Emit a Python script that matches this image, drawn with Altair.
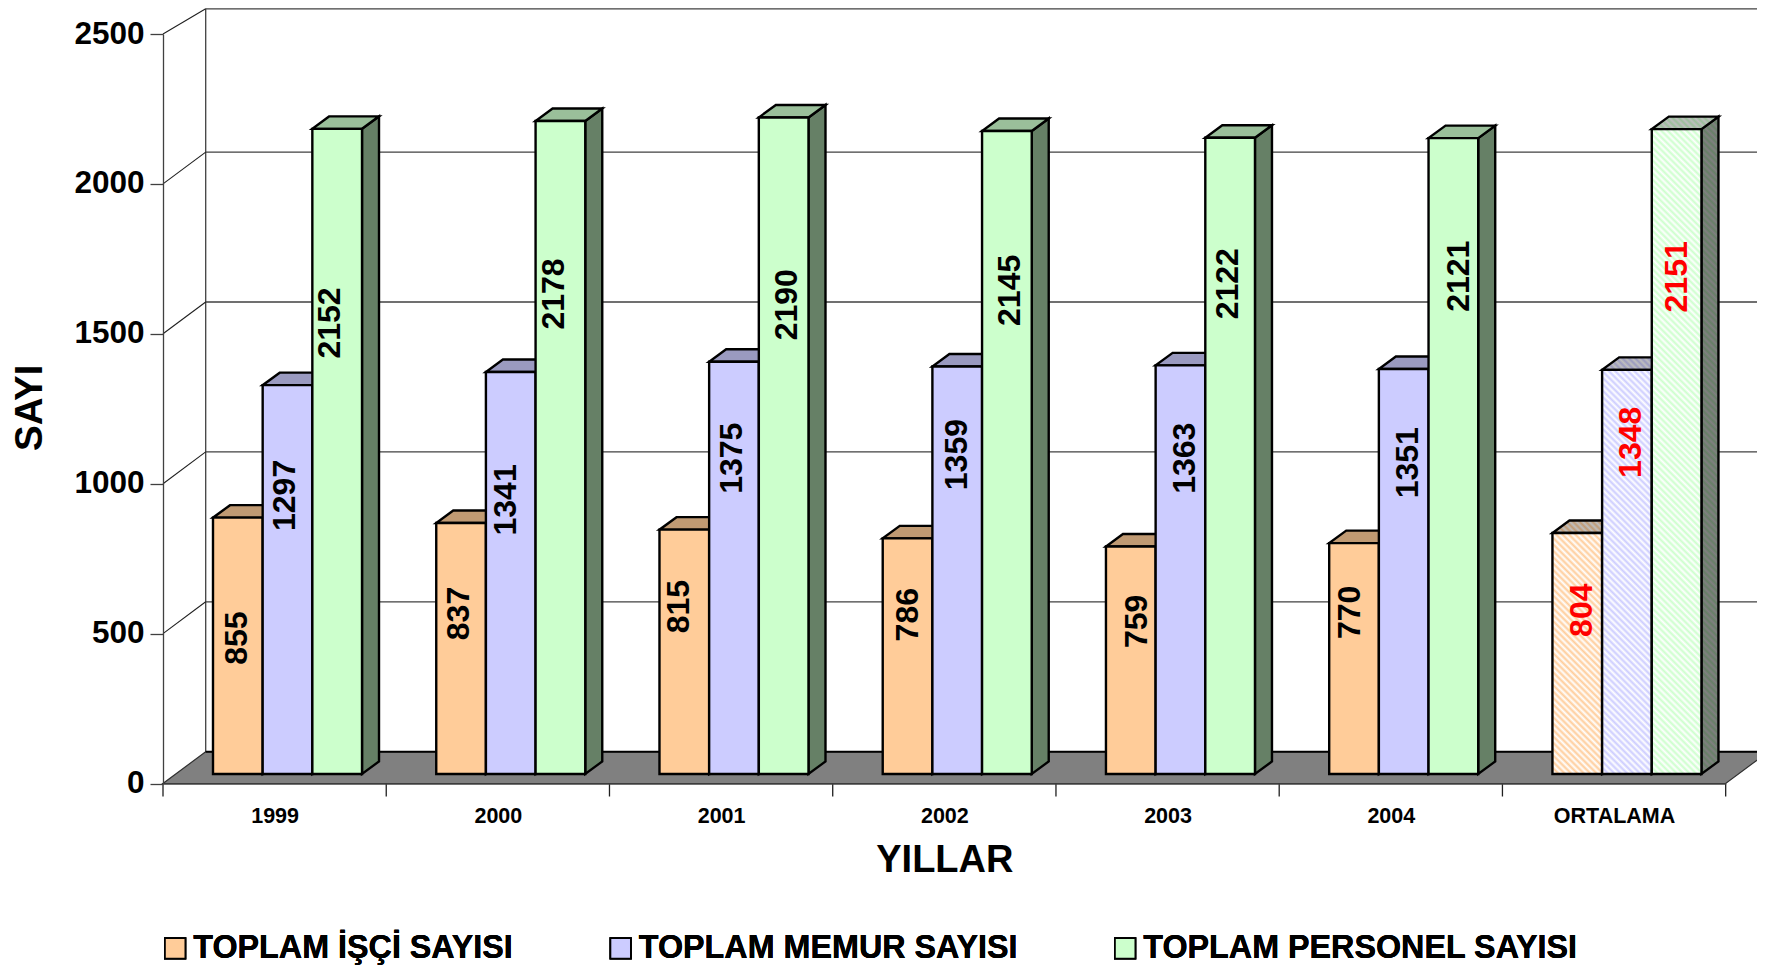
import json
import altair as alt
import pandas as pd

# ---- data
categories = ["1999", "2000", "2001", "2002", "2003", "2004", "ORTALAMA"]
series = ["TOPLAM İŞÇİ SAYISI", "TOPLAM MEMUR SAYISI", "TOPLAM PERSONEL SAYISI"]
isci = [855, 837, 815, 786, 759, 770, 804]
memur = [1297, 1341, 1375, 1359, 1363, 1351, 1348]
personel = [2152, 2178, 2190, 2145, 2122, 2121, 2151]
values = [isci, memur, personel]

# where each hand-placed data label sits, in y-axis units
label_y_isci = [485, 567, 590, 563, 541, 571, 578]
label_y_memur = [961, 946, 1085, 1097, 1085, 1070, 1138]
label_y_personel = [1536, 1633, 1597, 1645, 1667, 1692, 1690]
label_y = [label_y_isci, label_y_memur, label_y_personel]
# sideways nudge of each label from its bar centre, in category units
label_dx_isci = [-0.003, -0.010, -0.025, 0, 0.030, -0.020, 0.020]
label_dx_memur = [-0.010, -0.020, -0.010, 0, 0.020, 0.020, 0.018]
label_dx_personel = [-0.030, -0.030, 0.015, 0.015, -0.010, 0.025, 0]
label_dx = [label_dx_isci, label_dx_memur, label_dx_personel]

y_ticks = [0, 500, 1000, 1500, 2000, 2500]

front = ["#FFCC99", "#CCCCFF", "#CCFFCC"]
top_c = ["#C09A73", "#9A9AC0", "#9ABF9A"]
side_c = ["#806650", "#666680", "#668066"]

# ---- drawing geometry
PX_X = 223.24            # pixels per category
PX_Y = 0.2998            # pixels per y unit
PLOT_W = PX_X * 7
PLOT_H = 2500 * PX_Y
LEFT, TOP = 155, 26
CANVAS_W, CANVAS_H = 1749, 960
WALL_DX, WALL_DY = 42.7 / PX_X, 31.8 / PX_Y
BAR_DX, BAR_DY = 17 / PX_X, 12.5 / PX_Y
BAR_X0 = 50 / PX_X
BAR_W = 49.67 / PX_X
BAR_BASE = 9.5 / PX_Y
TOP_LINE = 2584          # the back wall's top edge, kept on the canvas
FONT = "Liberation Sans"

X = alt.Scale(domain=[0, 7], nice=False, zero=False)
Y = alt.Scale(domain=[0, 2500], nice=False, zero=False)
xq = lambda f="x": alt.X(f"{f}:Q", scale=X, axis=None)
yq = lambda f="y": alt.Y(f"{f}:Q", scale=Y, axis=None)


def hatch(color, w_px, h_px, other="#FFFFFF"):
    """Soft diagonal stripes as a gradient over the shape's bounding box."""
    span = w_px + h_px
    period = 6.4
    n = int(span / period) + 1
    stops = []
    for k in range(n):
        a = min(1, k * period / span)
        b = min(1, (k + 0.5) * period / span)
        stops += [
            {"offset": a, "color": color},
            {"offset": b, "color": other},
        ]
    s = span / (w_px ** 2 + h_px ** 2)
    return {
        "gradient": "linear",
        "x1": 0, "y1": 1,
        "x2": s * w_px, "y2": 1 - s * h_px,
        "stops": stops,
    }


layers = []

# back wall: axis host, vertical edge
wall = pd.DataFrame({"x": [WALL_DX], "y": [WALL_DY], "y2": [TOP_LINE]})
layers.append(
    alt.Chart(wall).mark_rule(color="#404040", strokeWidth=1.3).encode(
        x=alt.X("x:Q", scale=X, axis=alt.Axis(
            values=[i + 0.5 for i in range(7)],
            labelExpr=json.dumps(categories) + "[floor(datum.value)]",
            ticks=False, grid=False, domainColor="#404040", domainWidth=1.3,
            labelFont=FONT, labelFontWeight="bold", labelFontSize=21.5,
            labelColor="black", labelPadding=22, labelOverlap=False, labelFlush=False,
            labelAngle=0,
            title="YILLAR", titleFont=FONT, titleFontWeight="bold", titleFontSize=38,
            titleColor="black", titleBaseline="middle", titleY=76.5, titleX=PLOT_W / 2,
            zindex=1)),
        y=alt.Y("y:Q", scale=Y, axis=alt.Axis(
            values=y_ticks, format="d", grid=False, tickSize=13, tickColor="#404040", tickWidth=1.3,
            domainColor="#404040", domainWidth=1.3,
            labelFont=FONT, labelFontWeight="bold", labelFontSize=31.5,
            labelColor="black", labelPadding=6, labelOverlap=False, labelFlush=False,
            title="SAYI", titleFont=FONT, titleFontWeight="bold", titleFontSize=38.5,
            titleColor="black", titleX=-134, titleY=PLOT_H / 2 - 1.5, titleBaseline="middle",
            zindex=1)),
        y2="y2:Q",
    )
)

# grid lines on the back wall and the top edge
grid = pd.DataFrame({
    "x": [WALL_DX] * 5,
    "x2": [7 + WALL_DX] * 5,
    "y": [v + WALL_DY for v in y_ticks[1:5]] + [TOP_LINE],
})
layers.append(
    alt.Chart(grid).mark_rule(color="#404040", strokeWidth=1.3).encode(
        x=xq(), x2="x2:Q", y=yq(),
    )
)

# diagonals across the left wall
diag_rows = []
for v in y_ticks[1:]:
    end = TOP_LINE if v == 2500 else v + WALL_DY
    diag_rows += [{"id": v, "x": 0, "y": v}, {"id": v, "x": WALL_DX, "y": end}]
layers.append(
    alt.Chart(pd.DataFrame(diag_rows)).mark_line(color="#202020", strokeWidth=1.1).encode(
        x=xq(), y=yq(), detail="id:N",
    )
)

# floor
floor = pd.DataFrame({
    "y": [0, WALL_DY],
    "x": [0, WALL_DX],
    "x2": [7, 7 + WALL_DX],
})
layers.append(
    alt.Chart(floor).mark_area(orient="horizontal", color="#808080", stroke="#303030",
                               strokeWidth=1.2, opacity=1).encode(
        y=yq(), x=xq(), x2="x2:Q",
    )
)
layers.append(
    alt.Chart(pd.DataFrame({"x": [WALL_DX], "x2": [7 + WALL_DX], "y": [WALL_DY]}))
    .mark_rule(color="black", strokeWidth=2).encode(x=xq(), x2="x2:Q", y=yq())
)

# ticks under the category axis
ticks = pd.DataFrame({"x": list(range(8)), "y": [0] * 8, "y2": [-13 / PX_Y] * 8})
layers.append(
    alt.Chart(ticks).mark_rule(color="#202020", strokeWidth=1.3).encode(
        x=xq(), y=yq(), y2="y2:Q",
    )
)


def face_rows(s, c):
    v = values[s][c]
    x0 = c + BAR_X0 + s * BAR_W
    x1 = x0 + BAR_W
    base = BAR_BASE
    t = base + v
    return x0, x1, base, t


STROKE = dict(stroke="black", strokeWidth=2.4, strokeJoin="miter", opacity=1)

for s in range(3):
    sd, tp, fr = [], [], []
    for c in range(6):
        x0, x1, base, t = face_rows(s, c)
        sd += [{"id": c, "x": x1, "y": t, "y2": base},
               {"id": c, "x": x1 + BAR_DX, "y": t + BAR_DY, "y2": base + BAR_DY}]
        tp += [{"id": c, "y": t, "x": x0, "x2": x1},
               {"id": c, "y": t + BAR_DY, "x": x0 + BAR_DX, "x2": x1 + BAR_DX}]
        fr.append({"x": x0, "x2": x1, "y": t, "y2": base, "seri": series[s]})
    layers.append(
        alt.Chart(pd.DataFrame(sd)).mark_area(fill=side_c[s], **STROKE).encode(
            x=xq(), y=yq(), y2="y2:Q", detail="id:N")
    )
    layers.append(
        alt.Chart(pd.DataFrame(tp)).mark_area(orient="horizontal", fill=top_c[s], **STROKE).encode(
            y=yq(), x=xq(), x2="x2:Q", detail="id:N")
    )
    layers.append(
        alt.Chart(pd.DataFrame(fr)).mark_rect(**STROKE).encode(
            x=xq(), x2="x2:Q", y=yq(), y2="y2:Q",
            color=alt.Color("seri:N", scale=alt.Scale(domain=series, range=front), legend=alt.Legend(
                orient="none", legendX=-4, legendY=898, direction="horizontal", columns=3,
                title=None, symbolType="square", symbolSize=420, symbolStrokeColor="black",
                symbolStrokeWidth=1.8, symbolOpacity=1, columnPadding=91.5,
                labelFont=FONT, labelFontWeight="bold", labelFontSize=32.3, labelColor="black",
                labelOffset=2, labelLimit=600, padding=0, gridAlign="each",
            )),
        )
    )
    # the hatched ORTALAMA group
    c = 6
    x0, x1, base, t = face_rows(s, c)
    bar_w_px = BAR_W * PX_X
    bar_h_px = values[s][c] * PX_Y
    d_x = BAR_DX * PX_X
    d_y = BAR_DY * PX_Y
    layers.append(
        alt.Chart(pd.DataFrame([
            {"x": x1, "y": t, "y2": base},
            {"x": x1 + BAR_DX, "y": t + BAR_DY, "y2": base + BAR_DY},
        ])).mark_area(fill=hatch(side_c[s], d_x, bar_h_px + d_y, "#808080"), **STROKE).encode(
            x=xq(), y=yq(), y2="y2:Q")
    )
    layers.append(
        alt.Chart(pd.DataFrame([
            {"y": t, "x": x0, "x2": x1},
            {"y": t + BAR_DY, "x": x0 + BAR_DX, "x2": x1 + BAR_DX},
        ])).mark_area(orient="horizontal", fill=hatch(top_c[s], bar_w_px + d_x, d_y, "#BFBFBF"),
                      **STROKE).encode(y=yq(), x=xq(), x2="x2:Q")
    )
    layers.append(
        alt.Chart(pd.DataFrame([{"x": x0, "x2": x1, "y": t, "y2": base}]))
        .mark_rect(fill=hatch(front[s], bar_w_px, bar_h_px), **STROKE).encode(
            x=xq(), x2="x2:Q", y=yq(), y2="y2:Q")
    )

# data labels
rows = []
for s in range(3):
    for c in range(7):
        x0 = c + BAR_X0 + s * BAR_W
        rows.append({
            "x": x0 + BAR_W / 2 + label_dx[s][c],
            "y": label_y[s][c],
            "t": str(values[s][c]),
            "col": "red" if c == 6 else "black",
        })
layers.append(
    alt.Chart(pd.DataFrame(rows)).mark_text(
        angle=270, align="center", baseline="middle", font=FONT, fontWeight="bold", fontSize=32,
    ).encode(
        x=xq(), y=yq(), text="t:N",
        color=alt.Color("col:N", scale=None, legend=None),
    )
)

chart = (
    alt.layer(*layers)
    .resolve_scale(color="independent")
    .resolve_axis(x="independent", y="independent")
    .properties(
        width=PLOT_W,
        height=PLOT_H,
        autosize=alt.AutoSizeParams(type="none"),
        padding={"left": LEFT, "top": TOP, "right": CANVAS_W - LEFT - PLOT_W, "bottom": CANVAS_H - TOP - PLOT_H},
        background="white",
    )
    .configure_view(stroke=None)
)
chart.save("out.html", embed_options={"renderer": "svg", "actions": False})
